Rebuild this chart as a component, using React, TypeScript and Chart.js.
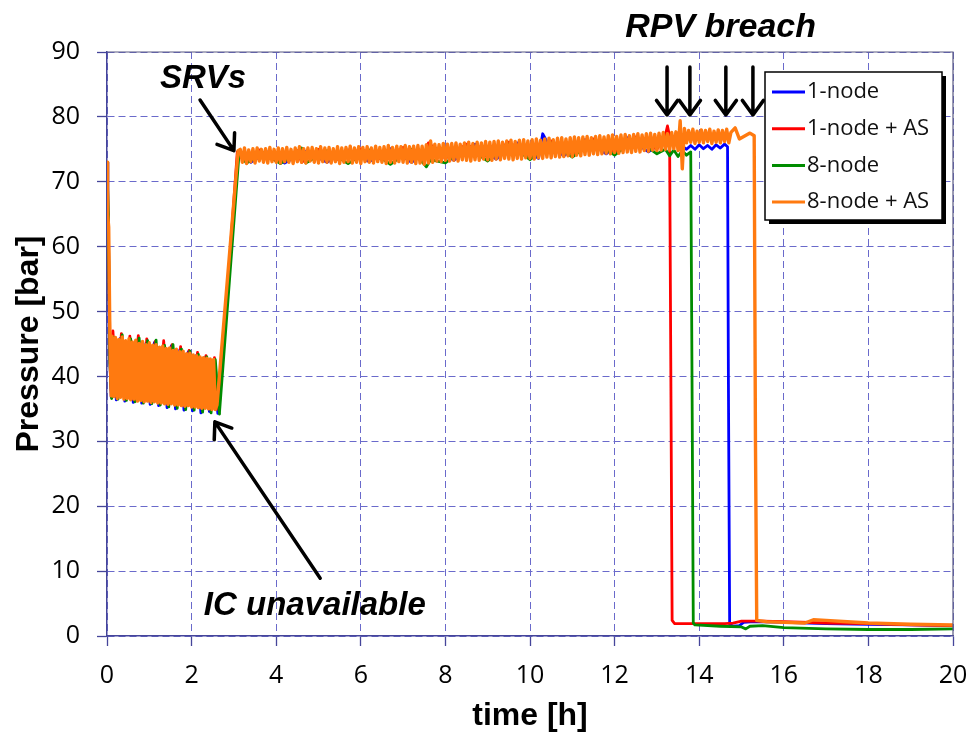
import { useEffect, useRef } from "react";
import { Chart, registerables } from "chart.js";

Chart.register(...registerables);

// ---------- series meta ----------
const seriesNames = ["1-node", "1-node + AS", "8-node", "8-node + AS"];
const seriesColors = ["#0000ff", "#ff0000", "#008c00", "#ff7a10"];
const seriesWidths = [2.8, 2.8, 2.8, 3.4];

// ---------- axes ----------
const xMin = 0, xMax = 20, xStep = 2;
const yMin = 0, yMax = 90, yStep = 10;
const xTitle = "time [h]";
const yTitle = "Pressure [bar]";

// ---------- 1-node (blue) ----------
const blueStart = [[0, 73], [0.02, 66], [0.06, 44], [0.1, 36.8]];
const blueOscHi = [45.8, 45.9, 45.3, 45.6, 45.1, 45.2, 44.6, 44.7, 44.1, 43.8, 43.3, 42.9, 42.5];
const blueOscLo = [36.4, 36.2, 36.0, 35.9, 35.7, 35.5, 35.2, 35.0, 34.8, 34.7, 34.4, 34.6, 34.3];
const blueRest = [
  [2.62, 34.8], [3.1, 74.4], [3.4, 73.0], [3.8, 74.6], [4.2, 72.9], [4.7, 74.7], [5.2, 73.0],
  [5.7, 74.9], [6.2, 73.1], [6.7, 75.1], [7.2, 73.0], [7.7, 75.5], [8.2, 73.3], [8.7, 75.8],
  [9.2, 73.5], [9.7, 76.0], [10.2, 73.6], [10.3, 77.4], [10.4, 76.2], [10.8, 74.0], [11.3, 76.5],
  [11.8, 74.3], [12.3, 76.8], [12.8, 74.6], [13.3, 77.0], [13.7, 75.0], [13.8, 75.6], [13.9, 75.0],
  [14.0, 75.7], [14.1, 75.1], [14.2, 75.6], [14.3, 75.0], [14.4, 75.7], [14.5, 75.2], [14.6, 75.8],
  [14.67, 75.4], [14.69, 40], [14.72, 1.8], [14.8, 1.5], [14.95, 1.6], [15.05, 2.1], [15.3, 2.2],
  [16.0, 2.1], [17.0, 1.9], [18.0, 1.8], [19.0, 1.7], [20.0, 1.6],
];

// ---------- 1-node + AS (red) ----------
const redStart = [[0, 73], [0.03, 64], [0.08, 40], [0.11, 37]];
const redOscHi = [47.0, 46.6, 46.2, 46.3, 45.8, 45.4, 45.5, 44.9, 44.6, 44.0, 43.7, 43.2, 42.9];
const redOscLo = [36.8, 36.6, 36.4, 36.5, 36.1, 36.0, 35.8, 35.7, 35.5, 35.3, 35.2, 35.0, 34.9];
const redRest = [
  [2.66, 36.0], [3.08, 74.6], [3.3, 73.6], [3.6, 74.9], [4.0, 73.2], [4.5, 74.8], [4.6, 73.0],
  [5.0, 75.0], [5.5, 73.3], [6.0, 75.1], [6.5, 73.4], [7.0, 75.3], [7.5, 73.2], [7.6, 76.0],
  [8.0, 73.6], [8.5, 75.8], [9.0, 73.8], [9.5, 76.1], [10.0, 74.0], [10.5, 76.3], [11.0, 74.3],
  [11.5, 76.6], [12.0, 74.6], [12.5, 76.9], [13.0, 75.0], [13.2, 77.2], [13.25, 78.6], [13.3, 77.0],
  [13.33, 40], [13.36, 2.4], [13.42, 1.9], [14.0, 1.9], [14.6, 1.9], [14.8, 2.0], [15.0, 2.3],
  [15.5, 2.3], [16.0, 2.2], [17.0, 2.0], [18.0, 1.9], [19.0, 1.7], [20.0, 1.6],
];

// ---------- 8-node (green) ----------
const greenStart = [[0, 73], [0.03, 65], [0.07, 42], [0.11, 36.6]];
const greenOscHi = [46.0, 46.4, 45.8, 45.9, 45.5, 45.6, 44.8, 44.9, 44.2, 43.9, 43.4, 43.0, 42.6];
const greenOscLo = [36.5, 36.3, 36.1, 35.9, 35.8, 35.6, 35.3, 35.1, 34.9, 34.8, 34.5, 34.4, 34.2];
const greenRest = [
  [2.66, 34.5], [3.12, 74.2], [3.3, 72.9], [3.7, 74.5], [4.1, 72.8], [4.5, 74.6], [4.6, 75.2],
  [4.7, 72.9], [5.2, 74.8], [5.7, 72.8], [6.2, 74.9], [6.7, 72.7], [7.2, 75.0], [7.55, 72.3],
  [7.65, 73.4], [8.0, 72.9], [8.5, 75.4], [9.0, 73.2], [9.5, 75.8], [10.0, 73.4], [10.5, 76.0],
  [11.0, 73.8], [11.5, 76.3], [12.0, 74.1], [12.5, 76.6], [13.0, 74.3], [13.2, 75.0], [13.3, 74.0],
  [13.4, 74.9], [13.5, 73.9], [13.6, 74.8], [13.7, 74.1], [13.8, 74.6], [13.83, 40], [13.86, 2.0],
  [13.9, 1.7], [14.5, 1.5], [15.0, 1.4], [15.1, 1.1], [15.2, 1.5], [15.5, 1.6], [16.0, 1.3],
  [17.0, 1.1], [18.0, 1.0], [19.0, 1.0], [20.0, 1.1],
];

// ---------- 8-node + AS (orange) ----------
const orangeStart = [[0, 73], [0.01, 72.5], [0.02, 65], [0.04, 63], [0.07, 45], [0.1, 37]];
const orangeOscHi = [
  46.2, 46.0, 45.7, 46.1, 45.5, 45.8, 45.3, 45.6, 45.1, 45.4,
  44.9, 45.2, 44.8, 44.9, 44.5, 44.7, 44.3, 44.4, 44.0, 44.2,
  43.8, 43.9, 43.5, 43.6, 43.3, 43.2, 43.0, 42.9, 42.8, 42.7, 42.6,
];
const orangeOscLo = [
  36.9, 36.6, 36.8, 36.5, 36.6, 36.4, 36.5, 36.2, 36.3, 36.1,
  36.2, 36.0, 36.1, 35.9, 35.9, 35.8, 35.7, 35.8, 35.6, 35.6,
  35.5, 35.4, 35.5, 35.3, 35.3, 35.2, 35.1, 35.1, 35.0, 34.9, 34.9,
];
const orangeRamp = [[2.6, 35.6], [3.1, 74.8]];
const orangeBandHi = [
  75.0, 75.2, 74.9, 75.1, 75.2, 75.0, 75.1, 75.3, 75.0, 75.2,
  75.1, 75.3, 75.0, 75.2, 75.4, 75.1, 75.2, 75.3, 75.1, 75.4,
  75.2, 75.3, 75.1, 75.4, 75.2, 75.3, 75.5, 75.2, 75.4, 75.3,
  75.4, 75.2, 75.5, 75.3, 75.4, 75.6, 75.3, 75.5, 75.4, 75.6,
  75.4, 75.5, 75.6, 75.5, 75.7, 76.3, 75.8, 75.7, 75.9, 75.8,
  75.9, 76.0, 75.8, 76.0, 76.1, 75.9, 76.1, 76.0, 76.2, 76.1,
  76.2, 76.3, 76.1, 76.3, 76.4, 76.2, 76.4, 76.5, 76.3, 76.5,
  76.6, 76.4, 76.6, 76.7, 76.5, 76.7, 76.8, 76.6, 76.8, 76.9,
  76.8, 76.9, 77.0, 76.8, 77.0, 77.1, 76.9, 77.1, 77.2, 77.0,
  77.2, 77.3, 77.1, 77.3, 77.4, 77.2, 77.4, 77.5, 77.3, 77.5,
  77.6, 77.4, 77.6, 77.7, 79.4, 78.2, 77.9, 78.1, 77.8, 78.0,
  77.9, 78.1, 77.8, 78.0, 77.9, 78.1,
];
const orangeBandLo = [
  73.0, 72.8, 73.1, 72.9, 73.2, 73.0, 72.9, 73.1, 73.0, 72.9,
  73.1, 73.0, 72.8, 73.1, 73.0, 72.9, 73.2, 73.0, 72.9, 73.1,
  73.0, 72.9, 73.1, 72.8, 73.0, 73.1, 72.9, 73.0, 72.8, 73.1,
  73.0, 72.9, 73.1, 73.0, 72.8, 73.0, 72.9, 73.1, 73.0, 72.9,
  73.0, 72.8, 72.9, 72.7, 72.9, 73.0, 73.2, 73.1, 73.3, 73.2,
  73.3, 73.2, 73.4, 73.3, 73.2, 73.4, 73.3, 73.5, 73.4, 73.3,
  73.5, 73.4, 73.6, 73.5, 73.4, 73.6, 73.5, 73.7, 73.6, 73.5,
  73.7, 73.6, 73.8, 73.7, 73.9, 73.8, 73.9, 74.0, 73.9, 74.1,
  74.0, 74.2, 74.1, 74.3, 74.2, 74.3, 74.4, 74.3, 74.5, 74.4,
  74.5, 74.6, 74.5, 74.7, 74.6, 74.8, 74.7, 74.9, 74.8, 74.9,
  75.0, 74.9, 75.1, 74.8, 72.0, 76.0, 76.1, 75.9, 76.1, 76.0,
  76.2, 75.9, 76.1, 76.0, 76.2, 76.0,
];
const orangeTail = [
  [14.75, 77.6], [14.85, 78.3], [14.95, 76.6], [15.2, 77.5], [15.3, 77.1], [15.33, 30],
  [15.36, 2.4], [15.6, 2.2], [16.0, 2.1], [16.5, 2.0], [16.7, 2.5], [17.0, 2.4], [17.5, 2.2],
  [18.0, 2.0], [19.0, 1.8], [20.0, 1.7],
];

// ---------- annotations (data coordinates) ----------
const srvText = { label: "SRVs", x: 1.25, y: 84.4 };
const srvArrow = { x1: 2.2, y1: 82.6, x2: 3.0, y2: 74.8 };
const icText = { label: "IC unavailable", x: 2.29, y: 3.3 };
const icArrow = { x1: 5.04, y1: 8.9, x2: 2.55, y2: 33.0 };
const rpvText = { label: "RPV breach", x: 12.25, y: 92.3 };
const rpvArrowTimes = [13.24, 13.78, 14.63, 15.27];
const rpvArrowTop = 87.7;
const rpvArrowTip = 80.3;

// ---------- helpers to build point lists ----------
type Pt = { x: number; y: number };
const pairs = (arr: number[][]): Pt[] => arr.map(([x, y]) => ({ x, y }));
function zigzag(start: number, step: number, hi: number[], lo: number[]): Pt[] {
  const pts: Pt[] = [];
  for (let k = 0; k < hi.length; k++) {
    pts.push({ x: start + k * step, y: hi[k] });
    pts.push({ x: start + k * step + step / 2, y: lo[k] });
  }
  return pts;
}

const blueData = [...pairs(blueStart), ...zigzag(0.12, 0.2, blueOscHi, blueOscLo), ...pairs(blueRest)];
const redData = [...pairs(redStart), ...zigzag(0.14, 0.2, redOscHi, redOscLo), ...pairs(redRest)];
const greenData = [...pairs(greenStart), ...zigzag(0.16, 0.2, greenOscHi, greenOscLo), ...pairs(greenRest)];
const orangeData = [
  ...pairs(orangeStart),
  ...zigzag(0.12, 0.08, orangeOscHi, orangeOscLo),
  ...pairs(orangeRamp),
  ...zigzag(3.15, 0.1, orangeBandHi, orangeBandLo),
  ...pairs(orangeTail),
];
const allData = [blueData, redData, greenData, orangeData];
const drawOrder = [3, 2, 1, 0];

const TICK_FONT = "'Open Sans', sans-serif";
const TITLE_FONT = "'Liberation Sans', Arial, sans-serif";
const AXIS_COLOR = "#45459a";
const GRID_COLOR = "#6a6acb";
const FRAME_COLOR = "#5a5a82";

function drawArrow(ctx: CanvasRenderingContext2D, x1: number, y1: number, x2: number, y2: number) {
  const ang = Math.atan2(y2 - y1, x2 - x1);
  const head = 18;
  const spread = Math.PI / 5;
  ctx.beginPath();
  ctx.moveTo(x1, y1);
  ctx.lineTo(x2, y2);
  ctx.moveTo(x2 - head * Math.cos(ang - spread), y2 - head * Math.sin(ang - spread));
  ctx.lineTo(x2, y2);
  ctx.lineTo(x2 - head * Math.cos(ang + spread), y2 - head * Math.sin(ang + spread));
  ctx.stroke();
}

const framePlugin = {
  id: "frame",
  afterDatasetsDraw(chart: any) {
    const { ctx, chartArea: a } = chart;
    ctx.save();
    ctx.strokeStyle = FRAME_COLOR;
    ctx.lineWidth = 1.2;
    ctx.beginPath();
    ctx.moveTo(a.left, a.top);
    ctx.lineTo(a.right, a.top);
    ctx.lineTo(a.right, a.bottom);
    ctx.stroke();
    ctx.restore();
  },
};

const annotationPlugin = {
  id: "annotations",
  afterDraw(chart: any) {
    const { ctx } = chart;
    const xs = chart.scales.x, ys = chart.scales.y;
    const px = (v: number) => xs.getPixelForValue(v);
    const py = (v: number) => ys.getPixelForValue(v);
    ctx.save();
    ctx.fillStyle = "#000";
    ctx.strokeStyle = "#000";
    ctx.lineWidth = 3.5;
    ctx.lineCap = "round";
    ctx.lineJoin = "round";
    ctx.textAlign = "left";
    ctx.textBaseline = "alphabetic";
    ctx.font = `italic bold 33px ${TITLE_FONT}`;
    ctx.fillText(srvText.label, px(srvText.x), py(srvText.y));
    ctx.fillText(icText.label, px(icText.x), py(icText.y));
    ctx.font = `italic bold 34px ${TITLE_FONT}`;
    ctx.fillText(rpvText.label, px(rpvText.x), py(rpvText.y));
    drawArrow(ctx, px(srvArrow.x1), py(srvArrow.y1), px(srvArrow.x2), py(srvArrow.y2));
    drawArrow(ctx, px(icArrow.x1), py(icArrow.y1), px(icArrow.x2), py(icArrow.y2));
    for (const t of rpvArrowTimes) {
      drawArrow(ctx, px(t), py(rpvArrowTop), px(t), py(rpvArrowTip));
    }
    ctx.restore();
  },
};

const legendPlugin = {
  id: "boxLegend",
  afterDraw(chart: any) {
    const { ctx, chartArea: a } = chart;
    const w = 177, h = 148;
    const x = a.right - 11 - w;
    const y = a.top + 20;
    ctx.save();
    ctx.fillStyle = "#000";
    ctx.fillRect(x + 4, y + 4, w, h);
    ctx.fillStyle = "#fff";
    ctx.fillRect(x, y, w, h);
    ctx.strokeStyle = "#000";
    ctx.lineWidth = 1.5;
    ctx.strokeRect(x, y, w, h);
    ctx.font = `22px ${TICK_FONT}`;
    ctx.textBaseline = "middle";
    ctx.textAlign = "left";
    chart.data.datasets.forEach((ds: any, i: number) => {
      const ry = y + 20 + i * 36.7;
      ctx.strokeStyle = ds.borderColor;
      ctx.lineWidth = 3;
      ctx.beginPath();
      ctx.moveTo(x + 7, ry);
      ctx.lineTo(x + 40, ry);
      ctx.stroke();
      ctx.fillStyle = "#111";
      ctx.fillText(ds.label, x + 42, ry);
    });
    ctx.restore();
  },
};

export default function App() {
  const ref = useRef<HTMLCanvasElement | null>(null);

  useEffect(() => {
    if (!ref.current) return;
    const chart = new Chart(ref.current, {
      type: "line",
      data: {
        datasets: seriesNames.map((name, i) => ({
          label: name,
          data: allData[i],
          borderColor: seriesColors[i],
          backgroundColor: seriesColors[i],
          borderWidth: seriesWidths[i],
          borderJoinStyle: "round",
          borderCapStyle: "round",
          pointRadius: 0,
          tension: 0,
          fill: false,
          order: drawOrder[i],
        })),
      },
      options: {
        responsive: false,
        animation: false,
        devicePixelRatio: 1,
        parsing: false,
        normalized: true,
        layout: { padding: { top: 52, right: 25, left: 0, bottom: 0 } },
        plugins: { legend: { display: false }, tooltip: { enabled: false }, title: { display: false } },
        scales: {
          x: {
            type: "linear",
            min: xMin,
            max: xMax,
            afterFit: (s: any) => {
              s.height = 103;
              s.paddingLeft = 0;
              s.paddingRight = 0;
            },
            ticks: {
              stepSize: xStep,
              autoSkip: false,
              maxRotation: 0,
              padding: 15,
              color: "#000",
              font: { family: TICK_FONT, size: 25 },
            },
            grid: {
              color: GRID_COLOR,
              lineWidth: 1,
              tickLength: 10,
              tickColor: AXIS_COLOR,
              tickWidth: 1.3,
              tickBorderDash: [],
            },
            border: { display: true, color: AXIS_COLOR, width: 1.5, dash: [7, 4] },
            title: {
              display: true,
              text: xTitle,
              color: "#000",
              font: { family: TITLE_FONT, size: 32, weight: "bold" },
              padding: { top: 0, bottom: 4 },
            },
          },
          y: {
            type: "linear",
            min: yMin,
            max: yMax,
            afterFit: (s: any) => {
              s.width = 107;
              s.paddingTop = 0;
              s.paddingBottom = 0;
            },
            ticks: {
              stepSize: yStep,
              padding: 17,
              color: "#000",
              font: { family: TICK_FONT, size: 25 },
            },
            grid: {
              color: GRID_COLOR,
              lineWidth: 1,
              tickLength: 10,
              tickColor: AXIS_COLOR,
              tickWidth: 1.3,
              tickBorderDash: [],
            },
            border: { display: true, color: AXIS_COLOR, width: 1.5, dash: [7, 4] },
            title: {
              display: true,
              text: yTitle,
              color: "#000",
              font: { family: TITLE_FONT, size: 32, weight: "bold" },
              padding: { top: 10, bottom: 0 },
            },
          },
        },
      } as any,
      plugins: [framePlugin, annotationPlugin, legendPlugin],
    });
    return () => chart.destroy();
  }, []);

  return (
    <div style={{ position: "fixed", left: 0, top: 0, width: 978, height: 739, background: "#fff" }}>
      <canvas ref={ref} width={978} height={739} style={{ display: "block" }} />
    </div>
  );
}
